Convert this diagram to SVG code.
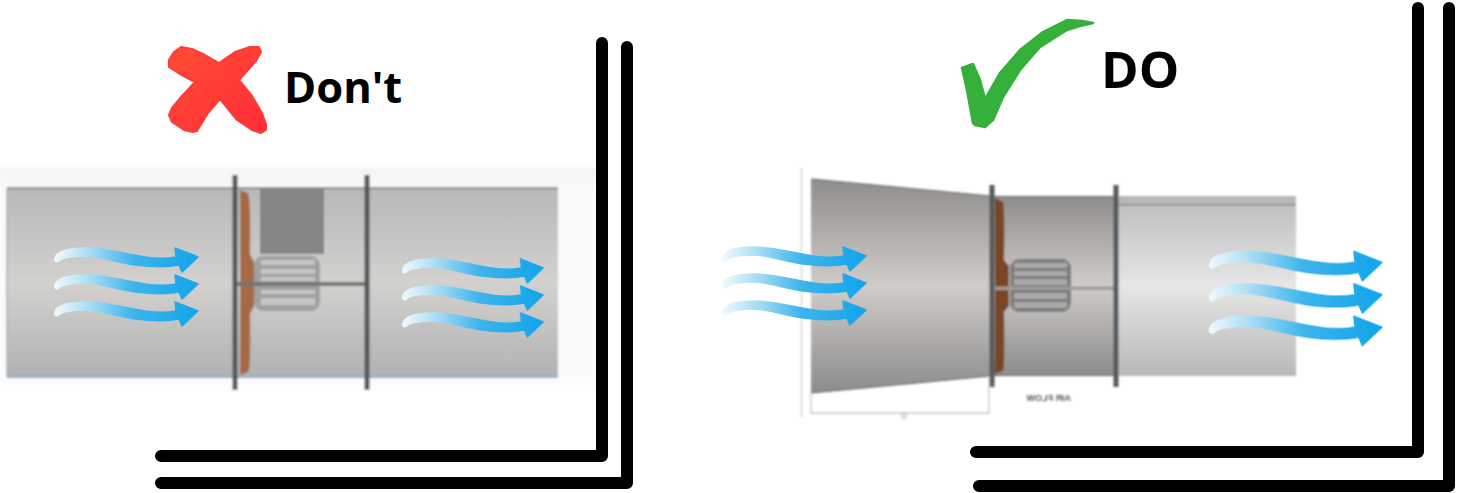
<svg xmlns="http://www.w3.org/2000/svg" xmlns:xlink="http://www.w3.org/1999/xlink" width="1463" height="493" viewBox="0 0 1463 493">
<style>
.wall{fill:none;stroke:#000;stroke-width:12;stroke-linecap:round;stroke-linejoin:round}
.label{font-family:"Open Sans","Noto Sans",sans-serif;font-weight:700;fill:#000}
.flange{fill:#55585b}
.blade{fill:#a56b45}
.dim{fill:none;stroke:#c4c4c4;stroke-width:1.3}
</style>
<defs>
<filter id="soft" x="-5%" y="-5%" width="110%" height="110%"><feGaussianBlur stdDeviation="0.9"/></filter>
<filter id="soft2" x="-5%" y="-5%" width="110%" height="110%"><feGaussianBlur stdDeviation="0.5"/></filter>
<linearGradient id="haze" x1="0" y1="0" x2="0" y2="1"><stop offset="0" stop-color="#f4f4f4"/><stop offset=".1" stop-color="#fafafa"/><stop offset=".9" stop-color="#fafafa"/><stop offset="1" stop-color="#fff"/></linearGradient>
<linearGradient id="duct" x1="0" y1="0" x2="0" y2="1"><stop offset="0" stop-color="#b8b8b8"/><stop offset=".5" stop-color="#d2d1cf"/><stop offset="1" stop-color="#b2b2b2"/></linearGradient>
<linearGradient id="cone" x1="0" y1="0" x2="0" y2="1"><stop offset="0" stop-color="#8f8d8b"/><stop offset=".5" stop-color="#cfccc9"/><stop offset="1" stop-color="#8d8c8b"/></linearGradient>
<linearGradient id="outlet" x1="0" y1="0" x2="0" y2="1"><stop offset="0" stop-color="#bcbcbc"/><stop offset=".5" stop-color="#e6e6e6"/><stop offset="1" stop-color="#b8b8b8"/></linearGradient>
<linearGradient id="red" x1="0" y1="0" x2="1" y2="1"><stop offset="0" stop-color="#ff4d35"/><stop offset="1" stop-color="#ff2c38"/></linearGradient>
<linearGradient id="flow" gradientUnits="userSpaceOnUse" x1="55" y1="0" x2="198" y2="0"><stop offset="0" stop-color="#f0f8fc"/><stop offset=".2" stop-color="#b4e2f6"/><stop offset=".55" stop-color="#3db4ec"/><stop offset="1" stop-color="#12a5ea"/></linearGradient>
<path id="arrow" fill="url(#flow)" stroke="url(#flow)" stroke-width="1.500" stroke-linejoin="round" d="M55 258C56 252 68 248 85 248C105 248 125 254 145 257C155 258.500 168 258.500 176 257L175 248L198 257L182 272L179 265C165 268 150 267 135 265C115 262 100 256 85 256C72 256 62 258 60 260C57 263 54 262 55 258Z"/>
<g id="flows"><use xlink:href="#arrow" href="#arrow"/><use xlink:href="#arrow" href="#arrow" y="27"/><use xlink:href="#arrow" href="#arrow" y="54"/></g>
</defs>
<rect width="1463" height="493" fill="#fff"/>

<g id="dont-duct" filter="url(#soft)">
<rect x="0" y="168" width="595" height="228" fill="url(#haze)"/>
<rect x="7" y="188" width="551" height="189" fill="url(#duct)"/>
<path d="M7 188H558" stroke="#6f7375" stroke-width="1.400" fill="none"/>
<path d="M7 188V377" stroke="#8fa9b4" stroke-width="1.200" fill="none"/>
<path d="M7 377H558" stroke="#84adc2" stroke-width="2" fill="none"/>
<rect x="260" y="188" width="64" height="66" fill="#858585"/>
<rect x="254" y="256" width="66" height="55" rx="9" fill="#a0a0a0"/>
<g fill="#c6c6c6"><rect x="261" y="260" width="54" height="5"/><rect x="261" y="269" width="54" height="5"/><rect x="261" y="277" width="54" height="4"/><rect x="261" y="290" width="54" height="4"/><rect x="261" y="298" width="54" height="7"/></g>
<path class="blade" d="M240 190L248 193Q251 200 250 254L254 262V306L250 314Q251 370 248 372L240 375Z"/>
<rect x="236" y="282" width="131" height="4" fill="#77746e"/>
<rect class="flange" x="232.500" y="175" width="5" height="215"/>
<rect class="flange" x="364.500" y="175" width="5" height="215"/>
</g>

<g id="do-duct" filter="url(#soft)">
<path d="M801.500 168V418" stroke="#d2d2d2" stroke-width="1.300" fill="none"/>
<rect x="1115" y="196" width="181" height="180" fill="url(#outlet)"/>
<rect x="1117" y="196" width="179" height="9" fill="#b8b8b8"/>
<path d="M1117 205H1296" stroke="#777" stroke-width="1" fill="none"/>
<path d="M811 179L990 196V376L811 393Z" fill="url(#cone)"/>
<path d="M811 179L990 196M811 393L990 376" stroke="#5f5f5f" stroke-width="1.200" fill="none"/>
<rect x="990" y="196" width="125" height="180" fill="url(#cone)"/>
<path d="M990 196.500H1115M990 375.500H1115" stroke="#666" stroke-width="1.200" fill="none"/>
<rect x="1010" y="259" width="61" height="53" rx="9" fill="#7c7c7c"/>
<g fill="#a9a9a9"><rect x="1014" y="263" width="53" height="5"/><rect x="1014" y="271" width="53" height="5"/><rect x="1014" y="279" width="53" height="6"/><rect x="1014" y="293" width="53" height="6"/><rect x="1014" y="302" width="53" height="6"/></g>
<path d="M995 198L1003 202Q1005 210 1004 260L1009 266V306L1004 312Q1005 365 1003 371L995 374Z" fill="#7a4527"/>
<rect x="994" y="286.500" width="121" height="3.500" fill="#a09d98"/>
<rect class="flange" x="989.500" y="185" width="5" height="202"/>
<rect class="flange" x="1113.500" y="185" width="5" height="202"/>
<path class="dim" d="M811 393V413H989V376"/>
<rect class="dim" x="902" y="414" width="4" height="4"/>
<text id="airflow" transform="translate(1071 401) scale(-1 1)" font-family="Liberation Sans,sans-serif" font-size="9" font-weight="700" fill="#555">AIR FLOW</text>
</g>

<g id="dont-arrows" filter="url(#soft2)">
<use xlink:href="#flows" href="#flows"/>
<use xlink:href="#flows" href="#flows" transform="translate(349 11) scale(.98 1)"/>
</g>
<g id="do-arrows" filter="url(#soft2)">
<use xlink:href="#flows" href="#flows" transform="translate(668 -1)"/>
<use xlink:href="#flows" href="#flows" transform="translate(1144 -46) scale(1.2)"/>
</g>

<g id="cross">
<path fill="url(#red)" stroke="#ff3b36" stroke-width="2" stroke-linejoin="round" filter="url(#soft2)" d="M169 67L169 60L174 52L181 47L192 49L205 55L219 63L235 52L250 47L259 47L261 52L256 61L239 80L252 96L262 113L266 124L266 130L261 133L252 130L237 120L220 99L208 113L197 131L193 132L184 130L172 122L169 115L172 108L182 96L195 82L180 74Z"/>
<text class="label" x="284" y="103" font-size="43.500">Don't</text>
</g>
<g id="check">
<path fill="#34b03a" stroke="#34b03a" stroke-width="2.500" stroke-linejoin="round" filter="url(#soft2)" d="M962 68L973 64L980 80L985 99L1000 73L1020 50L1043 32L1067 20L1082 21L1093 23L1080 26L1067 30L1040 47L1020 70L1003 97L993 120L985 127L975 125L973 123L967 90Z"/>
<text class="label" x="1101" y="88" font-size="51">DO</text>
</g>

<g id="connectors">
<path class="wall" d="M602 43V456H161"/>
<path class="wall" d="M627 47V483H161"/>
<path class="wall" d="M1418 8V452H976"/>
<path class="wall" d="M1449 8V486H979"/>
</g>
</svg>
